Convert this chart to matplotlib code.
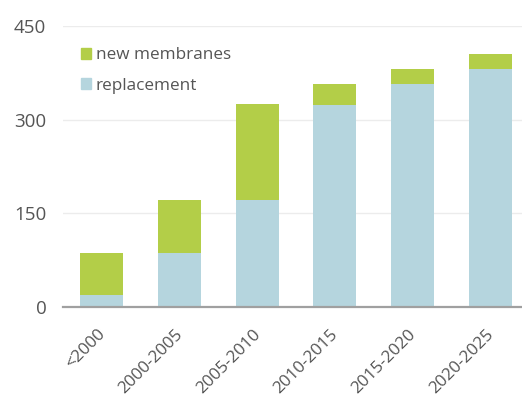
import matplotlib
matplotlib.use("Agg")
import matplotlib.pyplot as plt
from matplotlib.patches import Patch
from matplotlib.transforms import ScaledTranslation

categories = ["<2000", "2000-2005", "2005-2010", "2010-2015", "2015-2020", "2020-2025"]
replacement = [20, 86, 171, 324, 357, 381]
new_membranes = [67, 85, 154, 34, 24, 25]
yticks = [0, 150, 300, 450]

green = "#b3ce48"
blue = "#b5d5de"
text_col = "#555555"

plt.rcParams['font.family'] = ['Open Sans', 'DejaVu Sans']

fig = plt.figure(figsize=(5.22, 4.01), dpi=100)
ax = fig.add_axes([0.1207, 0.2344, 0.8793, 0.7006])

x = list(range(len(categories)))
ax.bar(x, replacement, width=0.55, color=blue, zorder=2)
ax.bar(x, new_membranes, bottom=replacement, width=0.55, color=green, zorder=2)

ax.set_ylim(0, 450)
ax.set_xlim(-0.5, 5.41)
ax.set_yticks(yticks)
ax.set_yticklabels([str(v) for v in yticks], color=text_col, fontsize=13.5)
ax.tick_params(axis='y', length=0, pad=12)
ax.grid(axis='y', color='#ececec', linewidth=1, zorder=0)
ax.set_axisbelow(True)

ax.set_xticks(x)
ax.set_xticklabels(categories, rotation=45, ha='right', rotation_mode='anchor',
                   color=text_col, fontsize=12.3)
ax.tick_params(axis='x', length=0, pad=14)
offset = ScaledTranslation(-0.05, 0, fig.dpi_scale_trans)
for lbl in ax.get_xticklabels():
    lbl.set_transform(lbl.get_transform() + offset)

for s in ['top', 'right', 'left']:
    ax.spines[s].set_visible(False)
ax.spines['bottom'].set_color('#a0a0a0')
ax.spines['bottom'].set_linewidth(1.6)

handles = [Patch(color=green, label='new membranes'), Patch(color=blue, label='replacement')]
leg = ax.legend(handles=handles, loc='upper left', bbox_to_anchor=(0.005, 0.98),
                frameon=False, fontsize=12.3, handlelength=0.62, handleheight=0.62,
                handletextpad=0.25, labelspacing=0.85)
for t in leg.get_texts():
    t.set_color(text_col)

fig.savefig("out.png", dpi=100)
